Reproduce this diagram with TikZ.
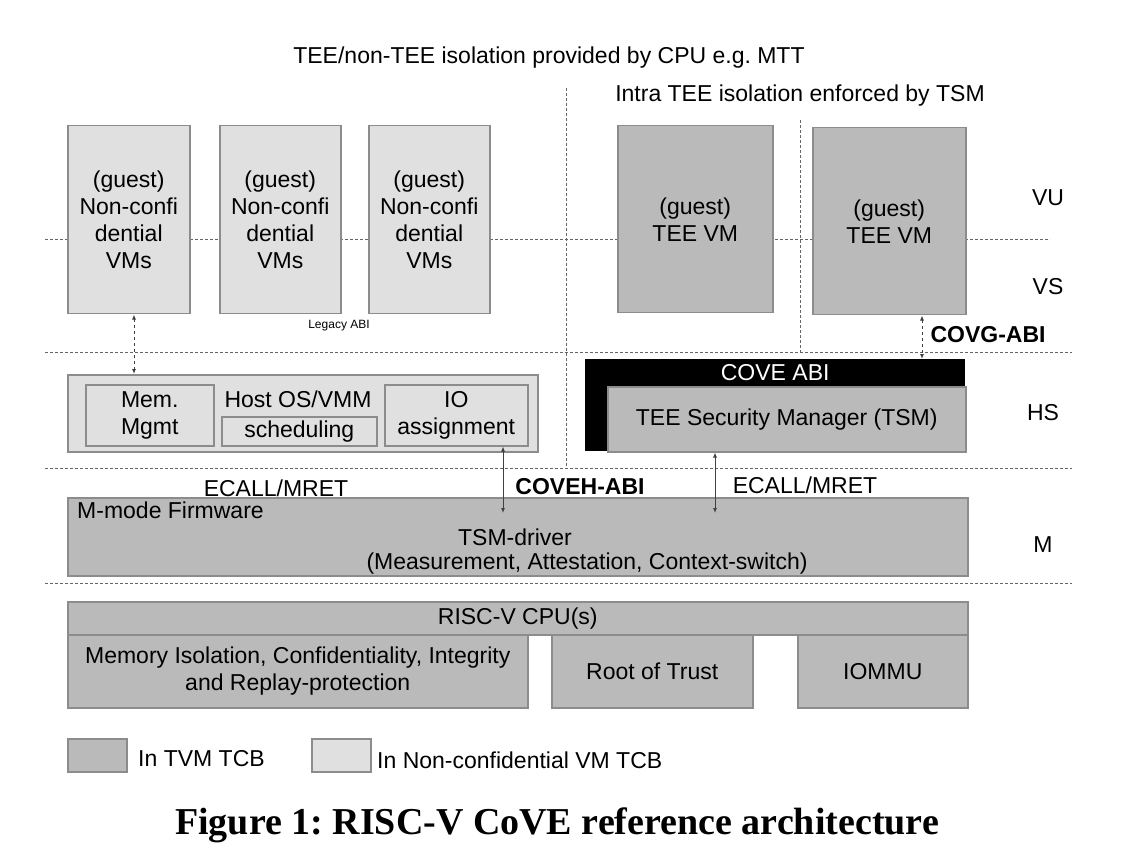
\documentclass[tikz,border=0pt]{standalone}
\usepackage{fontspec}
\setmainfont{Liberation Sans}
\newfontfamily\capfont{Liberation Serif}
\usepackage{tikz}
\usetikzlibrary{positioning}
\usetikzlibrary{arrows.meta}
\frenchspacing

\tikzset{
	lightbox/.style={draw=black!45, fill=black!12, line width=1.5pt, anchor=north west, align=center, inner sep=0pt},
	darkbox/.style={draw=black!45, fill=black!27, line width=1.5pt, anchor=north west, align=center, inner sep=0pt},
	sepline/.style={black!60, line width=0.9pt, dash pattern=on 3pt off 2pt},
	abiline/.style={black!75, line width=0.9pt, {Latex[length=5pt,width=4pt]}-{Latex[length=5pt,width=4pt]}},
}

\begin{document}
\begin{tikzpicture}[x=1pt,y=-1pt,font=\fontsize{23}{27}\selectfont]
				\useasboundingbox (0,0) rectangle (1134,858);

				%Lines (privilege levels)
				\draw[sepline] (45,239) -- (1050,239);
				\draw[sepline] (45,352) -- (1072,352);
				\draw[sepline] (45,468) -- (1072,468);
				\draw[sepline] (45,583) -- (1072,583);
				\draw[sepline] (566,88) -- (566,468);
				\draw[sepline] (800,120) -- (800,352);

				%Nodes
				\node (label) at (549,58) {TEE/non-TEE isolation provided by CPU e.g. MTT};
				\node (label) at (800,96) {Intra TEE isolation enforced by TSM};

				\node[lightbox, minimum width=122, minimum height=188] (vm1) at (67,125) {(guest)\\Non-confi\\dential\\VMs};
				\node[lightbox, minimum width=121, minimum height=188] (vm2) at (219,125) {(guest)\\Non-confi\\dential\\VMs};
				\node[lightbox, minimum width=121, minimum height=188] (vm3) at (368,125) {(guest)\\Non-confi\\dential\\VMs};
				\node[darkbox, minimum width=155, minimum height=187] (tee1) at (617,125) {(guest)\\TEE VM};
				\node[darkbox, minimum width=153, minimum height=187] (tee2) at (812,127) {(guest)\\TEE VM};

				\node (vu) at (1048,198) {VU};
				\node (vs) at (1048,287) {VS};
				\node (hs) at (1043,413) {HS};
				\node (m)  at (1043,545) {M};

				\node[font=\fontsize{12}{14}\selectfont] (legacy) at (339,326) {Legacy ABI};
				\node[font=\bfseries\fontsize{23}{27}\selectfont] (covg) at (988,335) {COVG-ABI};

				\node[lightbox, minimum width=470, minimum height=77] (host) at (67,374) {};
				\node[lightbox, minimum width=128, minimum height=61] (mem) at (85,384) {Mem.\\Mgmt};
				\node (hostos) at (298,399) {Host OS/VMM};
				\node[lightbox, minimum width=155, minimum height=29] (sched) at (221,416) {scheduling};
				\node[lightbox, minimum width=143, minimum height=61] (io) at (384,384) {IO\\assignment};

				\node[fill=black, text=white, anchor=north west, inner sep=0pt, minimum width=380, minimum height=27] (coveabi) at (585,359) {COVE ABI};
				\fill (585,386) rectangle (607,451);
				\node[darkbox, minimum width=358, minimum height=65] (tsm) at (607,386) {TEE Security Manager (TSM)};

				\node (ecall1) at (276,488) {ECALL/MRET};
				\node[font=\bfseries\fontsize{23}{27}\selectfont] (coveh) at (580,487) {COVEH-ABI};
				\node (ecall2) at (805,485) {ECALL/MRET};

				\node[darkbox, minimum width=900, minimum height=78] (mfw) at (67,497) {};
				\node[anchor=west, inner sep=0pt] (mlabel) at (77,510) {M-mode Firmware};
				\node (tsmd) at (515,537) {TSM-driver};
				\node (tsmdsub) at (587,564) {(Measurement, Attestation, Context-switch)};

				\node[darkbox, minimum width=900, minimum height=33] (cpu) at (67,601) {RISC-V CPU(s)};
				\node[darkbox, minimum width=460, minimum height=73] (memiso) at (67,634) {Memory Isolation, Confidentiality, Integrity\\and Replay-protection};
				\node[darkbox, minimum width=201, minimum height=73] (rot) at (551,634) {Root of Trust};
				\node[darkbox, minimum width=170, minimum height=73] (iommu) at (797,634) {IOMMU};

				\node[darkbox, minimum width=59, minimum height=33] (keytvm) at (67,738) {};
				\node[anchor=west, inner sep=0pt] (keytvmtext) at (138,759) {In TVM TCB};
				\node[lightbox, minimum width=59, minimum height=33] (keyvm) at (311,738) {};
				\node[anchor=west, inner sep=0pt] (keyvmtext) at (377,760) {In Non-confidential VM TCB};

				\node[font=\capfont\bfseries\fontsize{38}{44}\selectfont] (caption) at (557,825) {Figure 1: RISC-V CoVE reference architecture};

				%Lines (interfaces)
				\coordinate      (a1) 	at 	(134,374);
				\coordinate      (a2) 	at 	(922,359);
				\coordinate      (a3) 	at 	(503,513);
				\coordinate      (a4) 	at 	(715,513);
				\draw[abiline,dashed] (vm1.south -| a1) -- (a1);
				\draw[abiline,dashed] (tee2.south -| a2) -- (a2);
				\draw[abiline] (io.south -| a3) -- (a3);
				\draw[abiline] (tsm.south -| a4) -- (a4);

\end{tikzpicture}
\end{document}
